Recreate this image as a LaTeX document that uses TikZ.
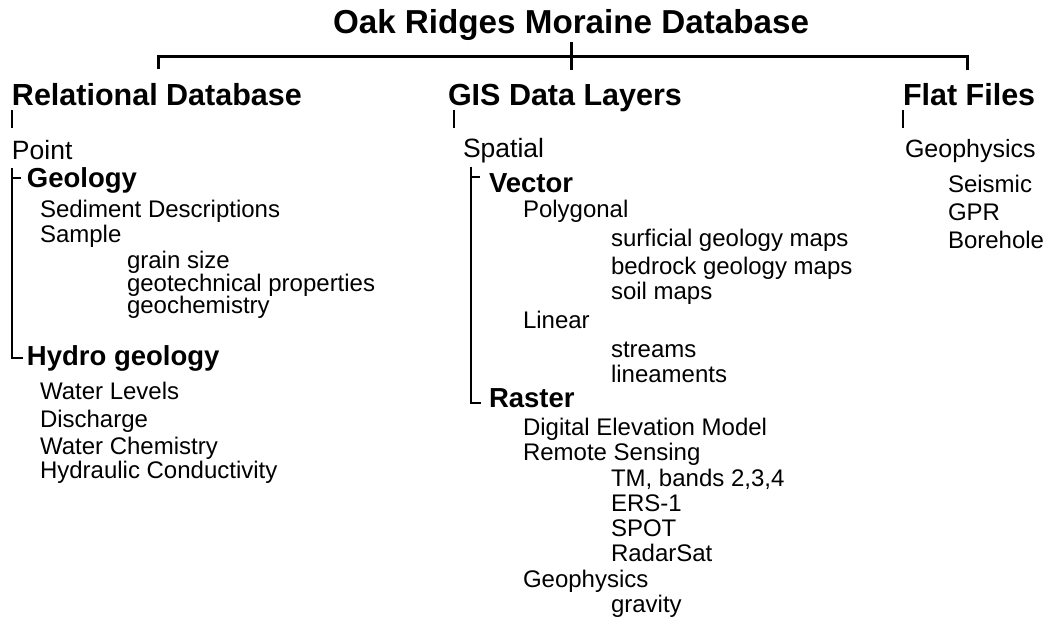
\documentclass[tikz,border=0pt]{standalone}
\usepackage{fontspec}
\setmainfont{Liberation Sans}
\begin{document}
\begin{tikzpicture}[x=1pt,y=-1pt,
  every node/.style={anchor=base west,inner sep=0pt,outer sep=0pt},
  titletext/.style={font=\bfseries\fontsize{33.2}{36}\selectfont},
  headtext/.style={font=\bfseries\fontsize{30.5}{34}\selectfont},
  lvonetext/.style={font=\fontsize{26.5}{30}\selectfont},
  lvtwotext/.style={font=\bfseries\fontsize{27.5}{31}\selectfont},
  itemtext/.style={font=\fontsize{24}{28}\selectfont},
  barline/.style={line width=3pt},
  tickline/.style={line width=1.6pt},
  bracketline/.style={line width=2pt}]
\useasboundingbox (0,0) rectangle (1061,631);
% title and top bar
\node[titletext] (title) at (333,34) {Oak Ridges Moraine Database};
\coordinate (barL) at (158,57);
\coordinate (barLd) at (158,69);
\coordinate (barR) at (967,57);
\coordinate (barRd) at (967,70);
\coordinate (barMt) at (571,42);
\coordinate (barMd) at (571,70);
\draw[barline] (barLd) -- (barL) -- (barR) -- (barRd);
\draw[barline] (barMt) -- (barMd);
% headings
\node[headtext] (rel) at (12,106) {Relational Database};
\node[headtext] (gis) at (448,106) {GIS Data Layers};
\node[headtext] (flat) at (903,106) {Flat Files};
\coordinate (t1a) at (12,110); \coordinate (t1b) at (12,128);
\coordinate (t2a) at (454,110); \coordinate (t2b) at (454,128);
\coordinate (t3a) at (903,110); \coordinate (t3b) at (903,128);
\draw[tickline] (t1a) -- (t1b);
\draw[tickline] (t2a) -- (t2b);
\draw[tickline] (t3a) -- (t3b);
% left column
\node[lvonetext] (point) at (12,160) {Point};
\node[lvtwotext] (geol) at (27,188) {Geology};
\node[itemtext] (sed) at (40,218) {Sediment Descriptions};
\node[itemtext] (sample) at (40,243) {Sample};
\node[itemtext] (grain) at (127,269) {grain size};
\node[itemtext] (geotech) at (127,291) {geotechnical properties};
\node[itemtext] (geochem) at (127,313) {geochemistry};
\node[lvtwotext] (hydro) at (27,365) {Hydro geology};
\node[itemtext] (wl) at (40,399) {Water Levels};
\node[itemtext] (dis) at (40,427) {Discharge};
\node[itemtext] (wc) at (40,454) {Water Chemistry};
\node[itemtext] (hc) at (40,478) {Hydraulic Conductivity};
\coordinate (lbTop) at (12,168);
\coordinate (lbTopEnd) at (21,178);
\coordinate (lbBot) at (12,358);
\coordinate (lbBotEnd) at (23,358);
\draw[bracketline] (lbTopEnd) -- (lbTopEnd -| lbTop) ;
\draw[bracketline] (lbTop) -- (lbBot) -- (lbBotEnd);
% middle column
\node[lvonetext] (spatial) at (463,158) {Spatial};
\node[lvtwotext] (vector) at (489,193) {Vector};
\node[itemtext] (poly) at (523,218) {Polygonal};
\node[itemtext] (surf) at (611,247) {surficial geology maps};
\node[itemtext] (bed) at (611,275) {bedrock geology maps};
\node[itemtext] (soil) at (611,300) {soil maps};
\node[itemtext] (linear) at (523,329) {Linear};
\node[itemtext] (streams) at (611,357) {streams};
\node[itemtext] (linea) at (611,382) {lineaments};
\node[lvtwotext] (raster) at (489,407) {Raster};
\node[itemtext] (dem) at (523,435) {Digital Elevation Model};
\node[itemtext] (rs) at (523,460) {Remote Sensing};
\node[itemtext] (tm) at (611,486) {TM, bands 2,3,4};
\node[itemtext] (ers) at (611,511) {ERS-1};
\node[itemtext] (spot) at (611,536) {SPOT};
\node[itemtext] (radar) at (611,561) {RadarSat};
\node[itemtext] (geoph) at (523,587) {Geophysics};
\node[itemtext] (grav) at (611,612) {gravity};
\coordinate (mbTop) at (471,167);
\coordinate (mbTopEnd) at (480,177);
\coordinate (mbBot) at (471,403);
\coordinate (mbBotEnd) at (481,403);
\draw[bracketline] (mbTopEnd) -- (mbTopEnd -| mbTop);
\draw[bracketline] (mbTop) -- (mbBot) -- (mbBotEnd);
% right column
\node[lvonetext,font=\fontsize{25}{30}\selectfont] (fgeo) at (905,158) {Geophysics};
\node[itemtext] (seis) at (948,193) {Seismic};
\node[itemtext] (gpr) at (948,221) {GPR};
\node[itemtext] (bore) at (948,249) {Borehole};
\end{tikzpicture}
\end{document}
